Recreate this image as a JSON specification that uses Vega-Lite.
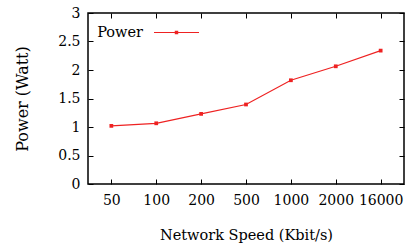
{
  "$schema": "https://vega.github.io/schema/vega-lite/v6.json",
  "autosize": "none",
  "width": 316,
  "height": 171,
  "padding": {"left": 88, "top": 13, "right": 3, "bottom": 62},
  "background": "white",
  "config": {
    "font": "DejaVu Serif",
    "view": {"stroke": "#000000", "strokeWidth": 1.5},
    "axis": {
      "labelFont": "DejaVu Serif",
      "titleFont": "DejaVu Serif",
      "labelFontSize": 14,
      "titleFontWeight": "normal",
      "labelColor": "#000000",
      "titleColor": "#000000",
      "grid": false,
      "domain": false,
      "tickColor": "#000000",
      "tickSize": -5,
      "tickWidth": 1
    },
    "legend": {
      "labelFont": "DejaVu Serif"
    }
  },
  "data": {
    "values": [
      {"speed": "50", "power": 1.02, "series": "Power"},
      {"speed": "100", "power": 1.065, "series": "Power"},
      {"speed": "200", "power": 1.23, "series": "Power"},
      {"speed": "500", "power": 1.395, "series": "Power"},
      {"speed": "1000", "power": 1.82, "series": "Power"},
      {"speed": "2000", "power": 2.065, "series": "Power"},
      {"speed": "16000", "power": 2.34, "series": "Power"}
    ]
  },
  "layer": [
    {
      "mark": {"type": "line", "strokeWidth": 1.2, "point": {"shape": "square", "size": 14, "filled": true}},
      "encoding": {
        "x": {
          "field": "speed", "type": "ordinal", "sort": null,
          "scale": {"type": "point", "padding": 0.52},
          "axis": {"orient": "bottom", "labelAngle": 0, "labelPadding": 14, "title": "Network Speed (Kbit/s)", "titleFontSize": 14.5, "titlePadding": 21}
        },
        "y": {
          "field": "power", "type": "quantitative",
          "scale": {"domain": [0, 3], "nice": false, "zero": true},
          "axis": {"orient": "left", "values": [0, 0.5, 1, 1.5, 2, 2.5, 3], "format": "~g", "labelPadding": 13, "title": "Power (Watt)", "titleFontSize": 16, "titlePadding": 27}
        },
        "color": {
          "field": "series", "type": "nominal",
          "scale": {"range": ["#ee2222"]},
          "legend": {
            "title": null,
            "orient": "none",
            "legendX": 65,
            "legendY": -4,
            "symbolType": "M-1,0L1,0M-0.05,-0.05L0.05,-0.05L0.05,0.05L-0.05,0.05Z",
            "symbolSize": 2025,
            "symbolStrokeWidth": 1.2,
            "symbolFillColor": "#ee2222",
            "labelFontSize": 14.5,
            "labelColor": "#000000",
            "labelAlign": "right",
            "labelOffset": -57
          }
        }
      }
    },
    {
      "mark": {"type": "point", "opacity": 0},
      "encoding": {
        "x": {"field": "speed", "type": "ordinal", "sort": null, "axis": {"orient": "top", "labels": false, "title": null}},
        "y": {"field": "power", "type": "quantitative", "axis": {"orient": "right", "labels": false, "title": null, "values": [0, 0.5, 1, 1.5, 2, 2.5, 3]}}
      }
    }
  ],
  "resolve": {"axis": {"x": "independent", "y": "independent"}}
}
